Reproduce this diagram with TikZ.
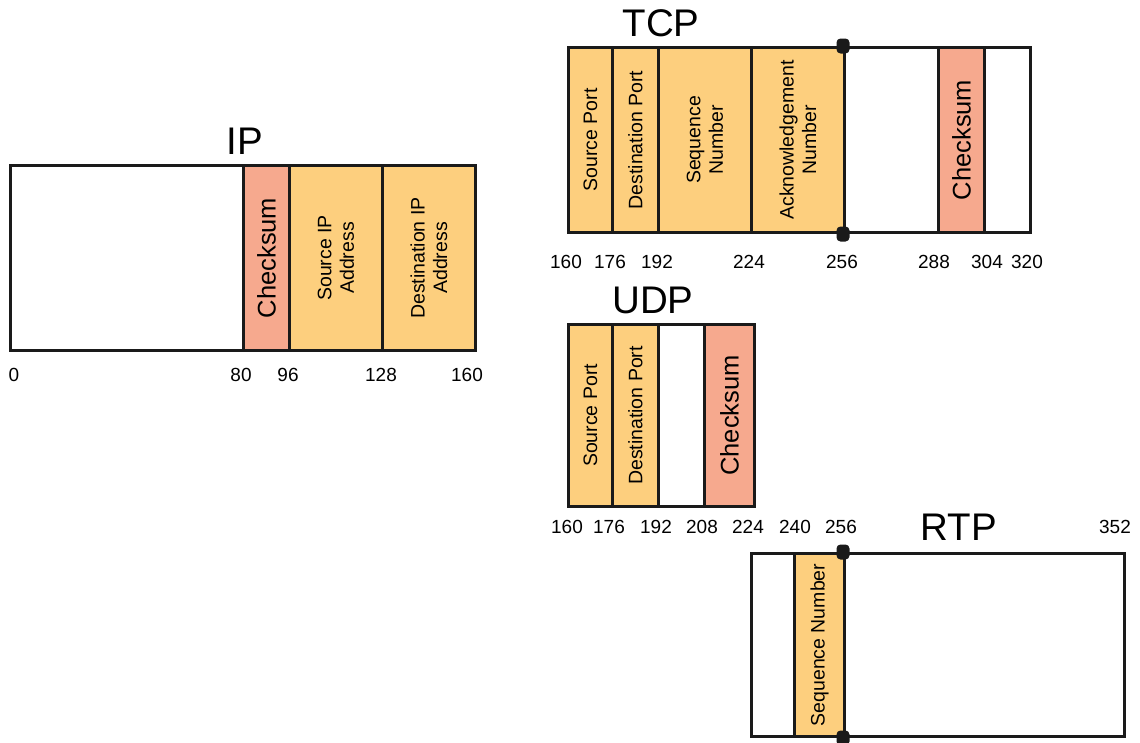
\documentclass[tikz,border=0pt]{standalone}
\usepackage{fontspec}
\setmainfont{Liberation Sans}
\definecolor{fieldorange}{HTML}{FDCF7E}
\definecolor{fieldpink}{HTML}{F6A98E}
\definecolor{edge}{HTML}{1A1A1A}
\tikzset{
  fld/.style={draw=edge, line width=3pt, anchor=north west, inner sep=0pt, fill=white},
  org/.style={fld, fill=fieldorange},
  pnk/.style={fld, fill=fieldpink},
  lbl/.style={rotate=90, align=center, inner sep=0pt, font=\fontsize{19.5}{22.5}\selectfont},
  cklbl/.style={rotate=90, inner sep=0pt, font=\fontsize{25.5}{28}\selectfont},
  num/.style={inner sep=0pt, font=\fontsize{19}{21}\selectfont},
  ttl/.style={inner sep=0pt, font=\fontsize{38.5}{40}\selectfont},
  dotmark/.style={rounded corners=4pt, rectangle, fill=edge, inner sep=0pt, minimum width=13pt, minimum height=15pt}
}
\begin{document}
\begin{tikzpicture}[x=1pt,y=-1pt]
\useasboundingbox (0,0) rectangle (1140,742);
% ---------------- IP ----------------
\node[fld, minimum width=233pt, minimum height=185pt] (ip0) at (9,164) {};
\node[pnk, minimum width=46pt, minimum height=185pt] (ipck) at (242,164) {};
\node[org, minimum width=93pt, minimum height=185pt] (ipsrc) at (288,164) {};
\node[org, minimum width=93pt, minimum height=185pt] (ipdst) at (381,164) {};
\node[cklbl] (ipckl) at (ipck.center) {Checksum};
\node[lbl] (ipsrcl) at (ipsrc.center) {Source IP\\Address};
\node[lbl] (ipdstl) at (ipdst.center) {Destination IP\\Address};
\node[ttl] (iptitle) at (245,141) {IP};
\node[num] (ipn0) at (14,375) {0};
\node[num] (ipn80) at (241,375) {80};
\node[num] (ipn96) at (288,375) {96};
\node[num] (ipn128) at (381,375) {128};
\node[num] (ipn160) at (467,375) {160};
% ---------------- TCP ----------------
\node[org, minimum width=44pt, minimum height=185pt] (t1) at (567,46) {};
\node[org, minimum width=46pt, minimum height=185pt] (t2) at (611,46) {};
\node[org, minimum width=93pt, minimum height=185pt] (t3) at (657,46) {};
\node[org, minimum width=93pt, minimum height=185pt] (t4) at (750,46) {};
\node[fld, minimum width=94pt, minimum height=185pt] (t5) at (843,46) {};
\node[pnk, minimum width=46pt, minimum height=185pt] (t6) at (937,46) {};
\node[fld, minimum width=46pt, minimum height=185pt] (t7) at (983,46) {};
\node[lbl] (t1l) at (t1.center) {Source Port};
\node[lbl] (t2l) at (t2.center) {Destination Port};
\node[lbl] (t3l) at (t3.center) {Sequence\\Number};
\node[lbl] (t4l) at (t4.center) {Acknowledgement\\Number};
\node[cklbl] (t6l) at (t6.center) {Checksum};
\node[dotmark] (td1) at (t5.north west) {};
\node[dotmark] (td2) at (t5.south west) {};
\node[ttl] (tcptitle) at (661,23) {TCP};
\node[num] (tn160) at (566,262) {160};
\node[num] (tn176) at (610,262) {176};
\node[num] (tn192) at (657,262) {192};
\node[num] (tn224) at (749,262) {224};
\node[num] (tn256) at (842,262) {256};
\node[num] (tn288) at (934,262) {288};
\node[num] (tn304) at (987,262) {304};
\node[num] (tn320) at (1027,262) {320};
% ---------------- UDP ----------------
\node[org, minimum width=44pt, minimum height=182pt] (u1) at (567,323) {};
\node[org, minimum width=46pt, minimum height=182pt] (u2) at (611,323) {};
\node[fld, minimum width=46pt, minimum height=182pt] (u3) at (657,323) {};
\node[pnk, minimum width=50pt, minimum height=182pt] (u4) at (703,323) {};
\node[lbl] (u1l) at (u1.center) {Source Port};
\node[lbl] (u2l) at (u2.center) {Destination Port};
\node[cklbl] (u4l) at (u4.center) {Checksum};
\node[ttl] (udptitle) at (653,300) {UDP};
\node[num] (un160) at (567,527) {160};
\node[num] (un176) at (609,527) {176};
\node[num] (un192) at (656,527) {192};
\node[num] (un208) at (702,527) {208};
\node[num] (un224) at (748,527) {224};
\node[num] (un240) at (795,527) {240};
\node[num] (un256) at (841,527) {256};
% ---------------- RTP ----------------
\node[fld, minimum width=43pt, minimum height=183pt] (r1) at (750,552) {};
\node[org, minimum width=50pt, minimum height=183pt] (r2) at (793,552) {};
\node[fld, minimum width=280pt, minimum height=183pt] (r3) at (843,552) {};
\node[lbl] (r2l) at (r2.center) {Sequence Number};
\node[dotmark] (rd1) at (r3.north west) {};
\node[dotmark] (rd2) at (r3.south west) {};
\node[ttl] (rtptitle) at (959,527) {RTP};
\node[num] (rn352) at (1115,527) {352};
\end{tikzpicture}
\end{document}
